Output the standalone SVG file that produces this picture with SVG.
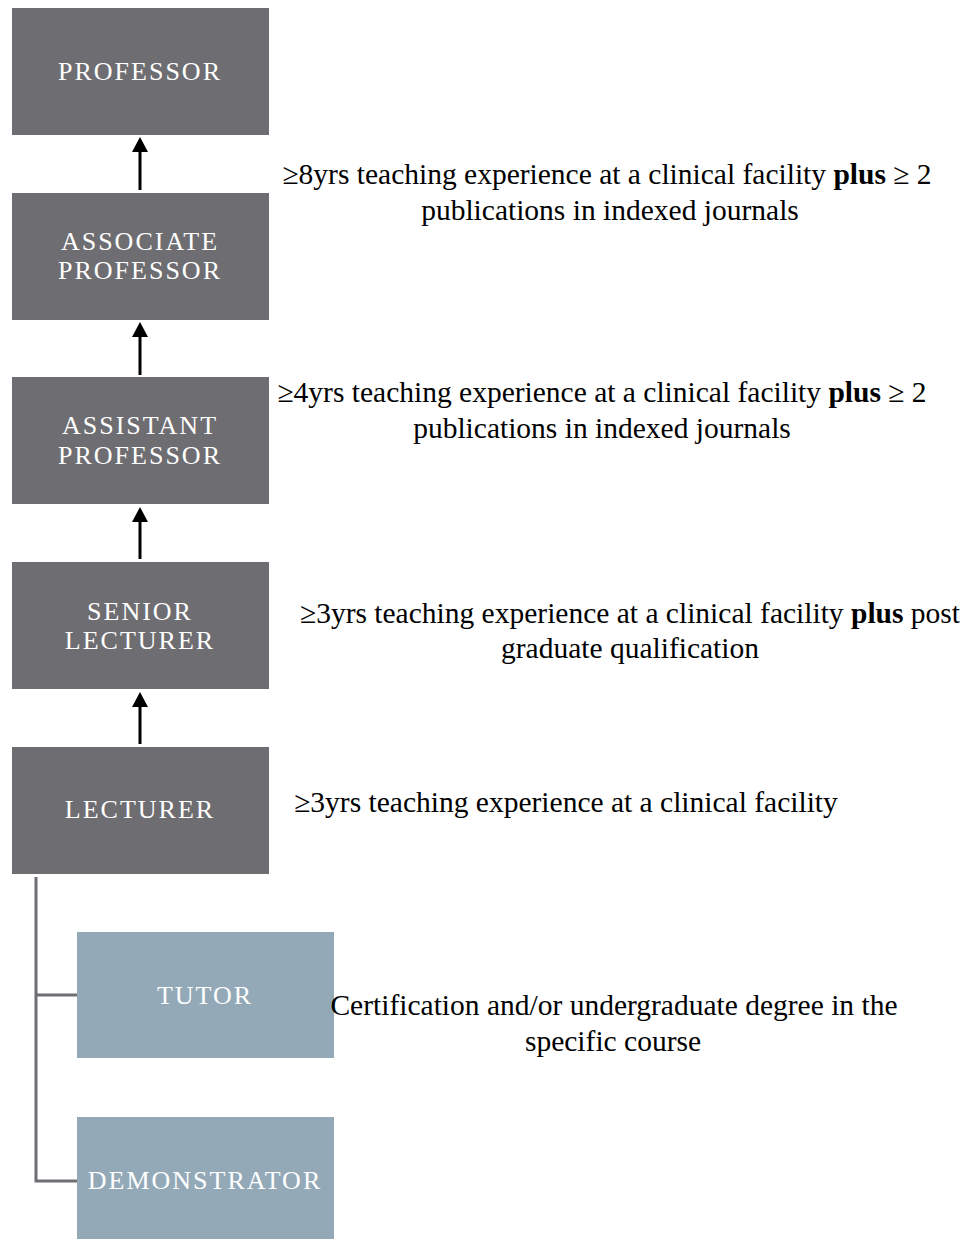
<svg xmlns="http://www.w3.org/2000/svg" width="972" height="1239" viewBox="0 0 972 1239">
  <style>
    .rank { fill: #6e6d72; }
    .entry { fill: #93a9b8; }
    .label { font-family: "Liberation Serif", "Times New Roman", serif; font-size: 26px; letter-spacing: 2px; fill: #ffffff; text-anchor: middle; }
    .req { font-family: "Liberation Serif", "Times New Roman", serif; font-size: 29.5px; fill: #000000; text-anchor: middle; }
    .req .b { font-weight: bold; }
    .up { stroke: #000000; stroke-width: 3; fill: none; }
    .head { fill: #000000; }
    .branch { stroke: #6e6d72; stroke-width: 3; fill: none; }
  </style>

  <rect width="972" height="1239" fill="#ffffff"/>

  <!-- promotion arrows and the entry-level branch -->
  <g id="connectors">
    <line class="up" x1="140" y1="190" x2="140" y2="152"/>
    <path class="head" d="M132,152 L140,137 L148,152 Z"/>
    <line class="up" x1="140" y1="375" x2="140" y2="337"/>
    <path class="head" d="M132,337 L140,322 L148,337 Z"/>
    <line class="up" x1="140" y1="559" x2="140" y2="522"/>
    <path class="head" d="M132,522 L140,507 L148,522 Z"/>
    <line class="up" x1="140" y1="744" x2="140" y2="707"/>
    <path class="head" d="M132,707 L140,692 L148,707 Z"/>
    <path class="branch" d="M36,877 L36,1181 L77,1181 M36,995 L77,995"/>
  </g>

  <!-- ranks -->
  <g id="professor">
    <rect class="rank" x="12" y="8" width="257" height="127"/>
    <text class="label" x="140" y="80">PROFESSOR</text>
  </g>
  <g id="associate-professor">
    <rect class="rank" x="12" y="193" width="257" height="127"/>
    <text class="label" x="140" y="250">ASSOCIATE</text>
    <text class="label" x="140" y="279">PROFESSOR</text>
  </g>
  <g id="assistant-professor">
    <rect class="rank" x="12" y="377" width="257" height="127"/>
    <text class="label" x="140" y="434">ASSISTANT</text>
    <text class="label" x="140" y="464">PROFESSOR</text>
  </g>
  <g id="senior-lecturer">
    <rect class="rank" x="12" y="562" width="257" height="127"/>
    <text class="label" x="140" y="620">SENIOR</text>
    <text class="label" x="140" y="649">LECTURER</text>
  </g>
  <g id="lecturer">
    <rect class="rank" x="12" y="747" width="257" height="127"/>
    <text class="label" x="140" y="818">LECTURER</text>
  </g>
  <g id="tutor">
    <rect class="entry" x="77" y="932" width="257" height="126"/>
    <text class="label" x="205" y="1004">TUTOR</text>
  </g>
  <g id="demonstrator">
    <rect class="entry" x="77" y="1117" width="257" height="122"/>
    <text class="label" x="205" y="1189">DEMONSTRATOR</text>
  </g>

  <!-- requirements for each rank -->
  <g id="req-professor">
    <text class="req" x="607" y="184">≥8yrs teaching experience at a clinical facility <tspan class="b">plus</tspan> ≥ 2</text>
    <text class="req" x="610" y="220">publications in indexed journals</text>
  </g>
  <g id="req-associate">
    <text class="req" x="602" y="402">≥4yrs teaching experience at a clinical facility <tspan class="b">plus</tspan> ≥ 2</text>
    <text class="req" x="602" y="438">publications in indexed journals</text>
  </g>
  <g id="req-senior">
    <text class="req" x="630" y="623">≥3yrs teaching experience at a clinical facility <tspan class="b">plus</tspan> post</text>
    <text class="req" x="630" y="658">graduate qualification</text>
  </g>
  <g id="req-lecturer">
    <text class="req" x="566" y="812">≥3yrs teaching experience at a clinical facility</text>
  </g>
  <g id="req-entry">
    <text class="req" x="614" y="1015">Certification and/or undergraduate degree in the</text>
    <text class="req" x="613" y="1051">specific course</text>
  </g>
</svg>
